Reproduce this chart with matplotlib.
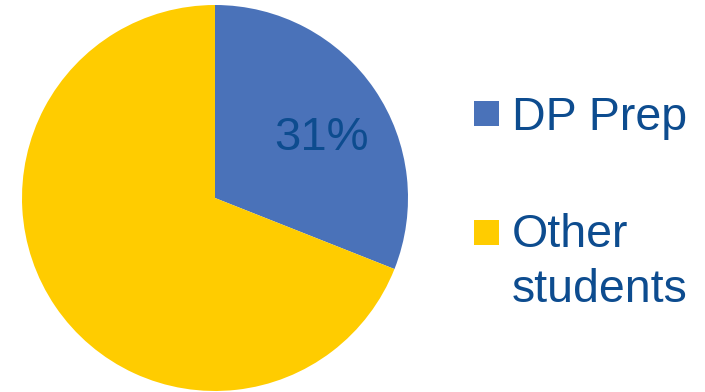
import matplotlib
matplotlib.use("Agg")
import matplotlib.pyplot as plt
from matplotlib.patches import Rectangle

labels = ["DP Prep", "Other\nstudents"]
values = [31, 69]
colors = ["#4A72B9", "#FFCC00"]
text_color = "#0D4C8F"

W, H = 705, 392
fig = plt.figure(figsize=(W / 100, H / 100), dpi=100)
plt.rcParams["font.family"] = ["Liberation Sans", "DejaVu Sans"]

# pie: centre (215,198), radius 193 px
cx, cy, r = 215, 198, 193
ax = fig.add_axes([(cx - r) / W, (H - cy - r) / H, 2 * r / W, 2 * r / H])
wedges, texts, autotexts = ax.pie(
    values, colors=colors, startangle=90, counterclock=False, radius=1,
    autopct="%1.0f%%", pctdistance=0.65,
    textprops=dict(fontsize=34, color=text_color),
    wedgeprops=dict(linewidth=0),
)
autotexts[1].set_visible(False)
autotexts[0].set_position((0.55, 0.31))
ax.set_xlim(-1, 1)
ax.set_ylim(-1, 1)
ax.set_aspect("equal")
ax.axis("off")

# legend drawn by hand
sq_top = [101, 220]
base = [130, 247]
for lab, col, st, b in zip(labels, colors, sq_top, base):
    fig.patches.append(Rectangle((474 / W, 1 - (st + 25) / H), 25 / W, 25 / H,
                                 transform=fig.transFigure, facecolor=col,
                                 edgecolor="none"))
    lines = lab.split("\n")
    for k, line in enumerate(lines):
        fig.text(512 / W, 1 - (b + 55 * k) / H, line, fontsize=33.5,
                 color=text_color, va="baseline", ha="left")

fig.savefig("out.png", dpi=100)
